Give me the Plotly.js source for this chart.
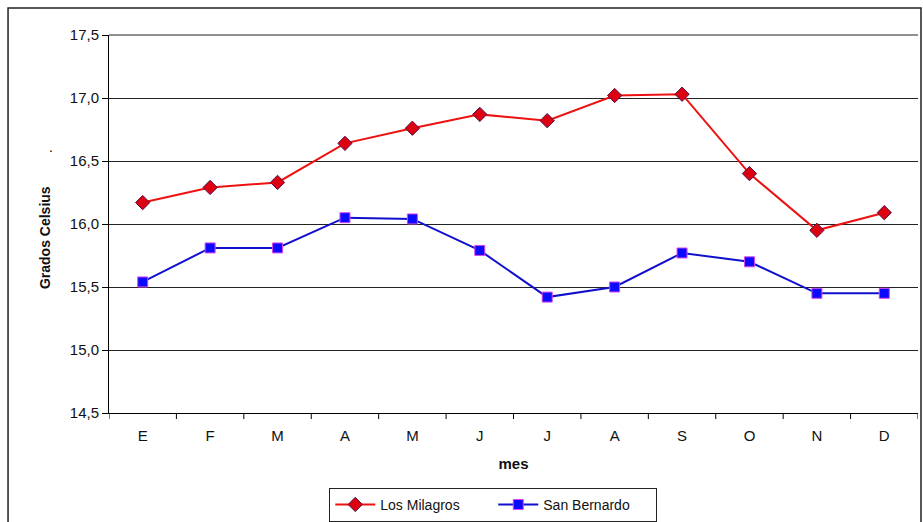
<!DOCTYPE html>
<html>
<head>
<meta charset="utf-8">
<script src="https://cdn.plot.ly/plotly-3.0.1.min.js"></script>
<style>html,body{margin:0;padding:0;background:#fff;}#chart{width:923px;height:522px;}</style>
</head>
<body>
<div id="chart"></div>
<script>
var meses = ["E","F","M","A","M","J","J","A","S","O","N","D"];
var losMilagros = [16.17, 16.29, 16.33, 16.64, 16.76, 16.87, 16.82, 17.02, 17.03, 16.40, 15.95, 16.09];
var sanBernardo = [15.54, 15.81, 15.81, 16.05, 16.04, 15.79, 15.42, 15.50, 15.77, 15.70, 15.45, 15.45];
var idx = meses.map(function(_, i){ return i; });

var traces = [
  {x: idx, y: losMilagros, name: "Los Milagros", type: "scatter", mode: "lines+markers",
   line: {color: "#ee1111", width: 2},
   marker: {symbol: "diamond", size: 11, color: "#dd0011", line: {color: "#55104a", width: 1}}},
  {x: idx, y: sanBernardo, name: "San Bernardo", type: "scatter", mode: "lines+markers",
   line: {color: "#1010cc", width: 2},
   marker: {symbol: "square", size: 10, color: "#0a0aff", line: {color: "#dd44ee", width: 1}}}
];

var tickShapes = [];
for (var k = -1; k < meses.length; k++) {
  tickShapes.push({type: "line", xref: "x", yref: "paper", x0: k + 0.5, x1: k + 0.5, y0: 0, y1: -0.016,
                   line: {color: "#000", width: 1}});
}

var layout = {
  width: 923, height: 522,
  margin: {l: 109, r: 5, t: 35, b: 109, autoexpand: false},
  paper_bgcolor: "#ffffff", plot_bgcolor: "#ffffff",
  separators: ",.",
  font: {family: "Liberation Sans, Arial, sans-serif", color: "#111", size: 14},
  showlegend: true,
  legend: {orientation: "h", x: 0.475, xanchor: "center", y: -0.198, yanchor: "top",
           bordercolor: "#222", borderwidth: 1, font: {size: 14}, traceorder: "normal",
           entrywidth: 108, itemwidth: 40},
  xaxis: {
    range: [-0.5, 11.5], tickmode: "array", tickvals: idx, ticktext: meses,
    showgrid: false, zeroline: false, showline: true, linecolor: "#000", linewidth: 1,
    ticks: "", tickfont: {size: 15}, ticklabelstandoff: 9,
    title: {text: "<b>mes</b>", font: {size: 15}, standoff: 15},
    fixedrange: true
  },
  yaxis: {
    range: [14.5, 17.5], dtick: 0.5, tick0: 14.5, tickformat: ".1f",
    showgrid: true, gridcolor: "#222", gridwidth: 1, zeroline: false,
    showline: true, linecolor: "#000", linewidth: 1,
    ticks: "outside", ticklen: 6, tickcolor: "#000", tickfont: {size: 15},
    fixedrange: true
  },
  shapes: [
    {type: "rect", xref: "paper", yref: "paper", x0: -0.1248, x1: 1.0037, y0: -0.35, y1: 1.0714,
     line: {color: "#222", width: 1.5}, fillcolor: "rgba(0,0,0,0)", layer: "below"},
    {type: "line", xref: "paper", yref: "paper", x0: 0, x1: 1, y0: 1, y1: 1, line: {color: "#222", width: 1}}
  ].concat(tickShapes),
  annotations: [
    {text: "<b>Grados Celsius</b>", textangle: -90, xref: "paper", yref: "paper",
     x: -0.079, y: 0.463, xanchor: "center", yanchor: "middle", showarrow: false, font: {size: 14}},
    {text: ".", xref: "paper", yref: "paper", x: -0.077, y: 0.73, showarrow: false, font: {size: 14}}
  ]
};

Plotly.newPlot("chart", traces, layout, {displayModeBar: false, staticPlot: true});
</script>
</body>
</html>
